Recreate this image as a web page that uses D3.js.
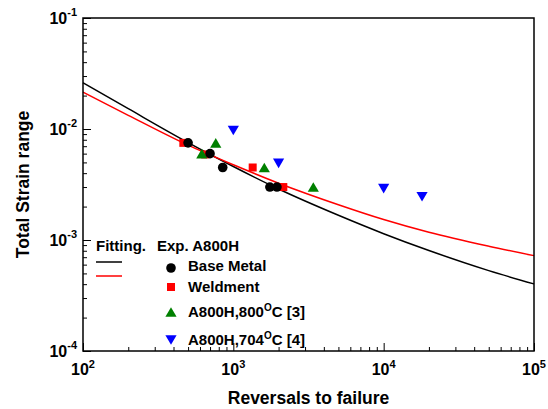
<!DOCTYPE html>
<html>
<head>
<meta charset="utf-8">
<script src="https://cdn.jsdelivr.net/npm/d3@7"></script>
<style>
  body { margin: 0; background: #fff; }
  text { font-family: Arial, "Liberation Sans", sans-serif; font-weight: bold; fill: #000; }
</style>
</head>
<body>
<div class="chart"></div>
<script>
// fitted curves (at these reversal counts)
const fitN = [100, 200, 500, 1000, 2000, 5000, 10000, 20000, 50000, 100000];
const baseFit = [0.0261, 0.01524, 0.00755, 0.00459, 0.00288, 0.00167, 0.00114, 0.000804, 0.00053, 0.000402];
const weldFit = [0.0215, 0.01328, 0.00715, 0.00476, 0.00325, 0.00208, 0.00153, 0.001175, 0.00088, 0.000723];

// experiments
const baseN = [500, 700, 850, 1750, 1950];
const baseE = [0.0075, 0.006, 0.0045, 0.003, 0.003];
const weldN = [465, 650, 1345, 2150];
const weldE = [0.0075, 0.0059, 0.0045, 0.003];
const a800N = [617, 764, 1607, 3404];
const a800E = [0.006, 0.0075, 0.0045, 0.003];
const a704N = [1000, 2000, 10000, 18000];
const a704E = [0.0097, 0.0049, 0.0029, 0.00245];

const xDecades = [2, 3, 4, 5];
const yDecades = [-4, -3, -2, -1];

let margin = { top: 18, right: 14, bottom: 58, left: 83 },
    width = 548 - margin.left - margin.right,
    height = 409 - margin.top - margin.bottom;

let svg = d3.select(".chart").append("svg")
  .attr("width", width + margin.left + margin.right)
  .attr("height", height + margin.top + margin.bottom)
  .append("g")
  .attr("transform", "translate(" + margin.left + "," + margin.top + ")");

let x = d3.scaleLog().domain([1e2, 1e5]).range([0, width]);
let y = d3.scaleLog().domain([1e-4, 1e-1]).range([height, 0]);

// minor + major ticks, pointing inward
let xTicks = [], yTicks = [];
for (let e = 2; e < 5; e++) for (let m = 1; m < 10; m++) xTicks.push(m * Math.pow(10, e));
xTicks.push(1e5);
for (let e = -4; e < -1; e++) for (let m = 1; m < 10; m++) yTicks.push(m * Math.pow(10, e));
yTicks.push(1e-1);
const isMajor = v => Math.abs(Math.log10(v) - Math.round(Math.log10(v))) < 1e-9;

let xAxis = d3.axisBottom(x).tickValues(xTicks).tickFormat("")
  .tickSizeOuter(0).tickSizeInner(0);
let gx = svg.append("g").attr("transform", "translate(0," + height + ")").call(xAxis);
gx.select(".domain").remove();
gx.selectAll(".tick line")
  .attr("y2", d => isMajor(d) ? -8 : -4)
  .attr("stroke", "#000").attr("stroke-width", 1);

let yAxis = d3.axisLeft(y).tickValues(yTicks).tickFormat("")
  .tickSizeOuter(0).tickSizeInner(0);
let gy = svg.append("g").call(yAxis);
gy.select(".domain").remove();
gy.selectAll(".tick line")
  .attr("x2", d => isMajor(d) ? 8 : 4)
  .attr("stroke", "#000").attr("stroke-width", 1);

// tick labels 10^n
xDecades.forEach(e => {
  let t = svg.append("text")
    .attr("x", x(Math.pow(10, e)))
    .attr("y", height + 24)
    .attr("text-anchor", "middle")
    .attr("font-size", 16);
  t.append("tspan").text("10");
  t.append("tspan").attr("dy", -7).attr("font-size", 11).text(e);
});
yDecades.forEach(e => {
  let t = svg.append("text")
    .attr("x", -6)
    .attr("y", y(Math.pow(10, e)) + 6)
    .attr("text-anchor", "end")
    .attr("font-size", 16);
  t.append("tspan").text("10");
  t.append("tspan").attr("dy", -8).attr("font-size", 11).text(e);
});

// axis titles
svg.append("text")
  .attr("x", width / 2)
  .attr("y", height + 53)
  .attr("text-anchor", "middle")
  .attr("font-size", 17.5)
  .text("Reversals to failure");

svg.append("text")
  .attr("transform", "translate(" + (29 - margin.left) + "," + (height / 2) + ") rotate(-90)")
  .attr("text-anchor", "middle")
  .attr("font-size", 17.5)
  .text("Total Strain range");

// fitted lines
let line = d3.line()
  .x(d => x(d[0]))
  .y(d => y(d[1]))
  .curve(d3.curveMonotoneX);

svg.append("path")
  .datum(d3.zip(fitN, baseFit))
  .attr("fill", "none").attr("stroke", "#000").attr("stroke-width", 1.5)
  .attr("d", line);
svg.append("path")
  .datum(d3.zip(fitN, weldFit))
  .attr("fill", "none").attr("stroke", "#ff0000").attr("stroke-width", 1.5)
  .attr("d", line);

// marker shapes (centred on their box)
const triUp = "M0,-4.8L5.6,4.8L-5.6,4.8Z";
const triDown = "M0,4.8L5.6,-4.8L-5.6,-4.8Z";
const square = "M-4,-4H4V4H-4Z";

svg.selectAll(".weld")
  .data(d3.zip(weldN, weldE))
  .join("path")
  .attr("class", "weld")
  .attr("d", square)
  .attr("transform", d => "translate(" + x(d[0]) + "," + y(d[1]) + ")")
  .attr("fill", "#ff0000");

svg.selectAll(".a800")
  .data(d3.zip(a800N, a800E))
  .join("path")
  .attr("class", "a800")
  .attr("d", triUp)
  .attr("transform", d => "translate(" + x(d[0]) + "," + y(d[1]) + ")")
  .attr("fill", "#008000");

svg.selectAll(".a704")
  .data(d3.zip(a704N, a704E))
  .join("path")
  .attr("class", "a704")
  .attr("d", triDown)
  .attr("transform", d => "translate(" + x(d[0]) + "," + y(d[1]) + ")")
  .attr("fill", "#0000ff");

svg.selectAll(".base")
  .data(d3.zip(baseN, baseE))
  .join("circle")
  .attr("class", "base")
  .attr("cx", d => x(d[0]))
  .attr("cy", d => y(d[1]))
  .attr("r", 4.8)
  .attr("fill", "#000");

// frame
svg.append("rect")
  .attr("width", width).attr("height", height)
  .attr("fill", "none").attr("stroke", "#000").attr("stroke-width", 1.5);

// legend
let lg = svg.append("g").attr("transform", "translate(" + (-margin.left) + "," + (-margin.top) + ")");
lg.append("text").attr("x", 96).attr("y", 251).attr("font-size", 15).text("Fitting.");
lg.append("text").attr("x", 157).attr("y", 251).attr("font-size", 15).text("Exp. A800H");
lg.append("line").attr("x1", 96).attr("x2", 122).attr("y1", 262).attr("y2", 262)
  .attr("stroke", "#000").attr("stroke-width", 1.5);
lg.append("line").attr("x1", 96).attr("x2", 122).attr("y1", 276).attr("y2", 276)
  .attr("stroke", "#ff0000").attr("stroke-width", 1.5);

lg.append("circle").attr("cx", 171).attr("cy", 268).attr("r", 4.8).attr("fill", "#000");
lg.append("text").attr("x", 188).attr("y", 271).attr("font-size", 15).text("Base Metal");

lg.append("path").attr("d", square).attr("transform", "translate(171,287)").attr("fill", "#ff0000");
lg.append("text").attr("x", 188).attr("y", 292).attr("font-size", 15).text("Weldment");

lg.append("path").attr("d", triUp).attr("transform", "translate(171,312)").attr("fill", "#008000");
let t3 = lg.append("text").attr("x", 188).attr("y", 317).attr("font-size", 15);
t3.append("tspan").text("A800H,800");
t3.append("tspan").attr("dy", -6).attr("font-size", 10).text("O");
t3.append("tspan").attr("dy", 6).text("C [3]");

lg.append("path").attr("d", triDown).attr("transform", "translate(171,340)").attr("fill", "#0000ff");
let t4 = lg.append("text").attr("x", 188).attr("y", 345).attr("font-size", 15);
t4.append("tspan").text("A800H,704");
t4.append("tspan").attr("dy", -6).attr("font-size", 10).text("O");
t4.append("tspan").attr("dy", 6).text("C [4]");
</script>
</body>
</html>
